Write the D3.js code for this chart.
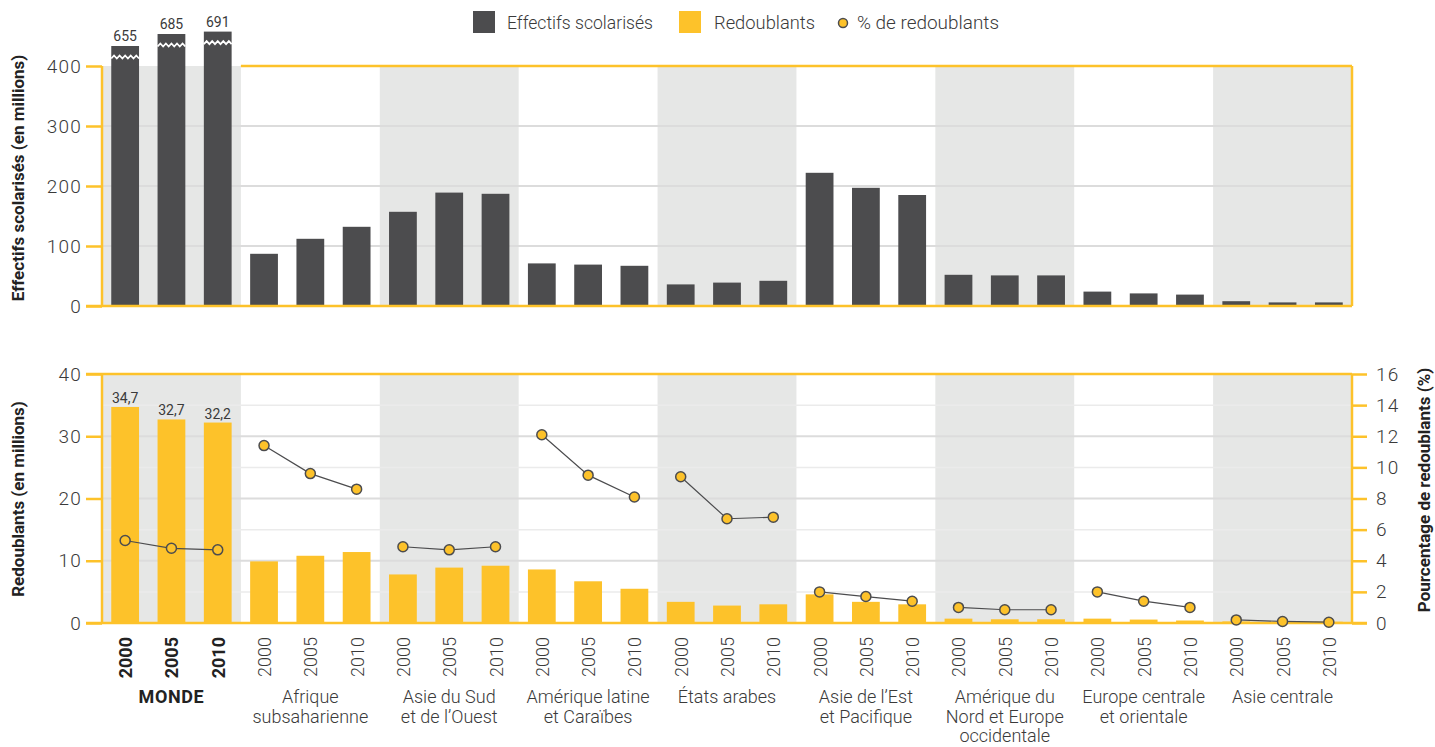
<!DOCTYPE html>
<html><head><meta charset="utf-8">
<script src="https://cdn.jsdelivr.net/npm/d3@7"></script>
<style>
html,body{margin:0;padding:0;background:#fff;}
svg text{font-family:Roboto,"Liberation Sans",sans-serif;}
</style></head>
<body><svg id="c" width="1435" height="747"></svg>
<script>
// ---------- DATA ----------
const regions = [
  ["MONDE"],
  ["Afrique","subsaharienne"],
  ["Asie du Sud","et de l’Ouest"],
  ["Amérique latine","et Caraïbes"],
  ["États arabes"],
  ["Asie de l’Est","et Pacifique"],
  ["Amérique du","Nord et Europe","occidentale"],
  ["Europe centrale","et orientale"],
  ["Asie centrale"]
];
const years = ["2000","2005","2010"];
// Effectifs scolarisés (millions), 3 years per region
const enrolled = [655,685,691, 87,112,132, 157,189,187, 71,69,67, 36,39,42, 222,197,185, 52,51,51, 24,21,19, 8,6,6];
// Redoublants (millions)
const repeaters = [34.7,32.7,32.2, 9.9,10.8,11.4, 7.8,8.9,9.2, 8.6,6.7,5.5, 3.4,2.8,3.0, 4.6,3.4,3.0, 0.7,0.6,0.6, 0.7,0.55,0.4, 0.25,0.2,0.2];
// % de redoublants
const pctRepeaters = [5.3,4.8,4.7, 11.4,9.6,8.6, 4.9,4.7,4.9, 12.1,9.5,8.1, 9.4,6.7,6.8, 2.0,1.7,1.4, 1.0,0.85,0.85, 2.0,1.4,1.0, 0.2,0.1,0.05];
const topTicks = [0,100,200,300,400];
const botTicksL = [0,10,20,30,40];
const botTicksR = [0,2,4,6,8,10,12,14,16];
const worldLabels = ["655","685","691"];
const worldRepLabels = ["34,7","32,7","32,2"];
const legendItems = ["Effectifs scolarisés","Redoublants","% de redoublants"];

// ---------- STYLE ----------
const YEL="#fdc22a", DARK="#4c4c4e", BG="#e6e7e6", GRID="#dcdcdc", GRID2="#ebebeb", TXT="#3a3a3a";
const L=102, R=1352;
const svg=d3.select("#c");

const keys=[]; regions.forEach((r,i)=>years.forEach(y=>keys.push(i+"-"+y)));
const x=d3.scaleBand().domain(keys).range([L,R]).paddingInner(0.4).paddingOuter(0.2);
const gx=d3.scaleBand().domain(d3.range(regions.length)).range([L,R]);

const T0=66,T1=306;
const yT=d3.scaleLinear().domain([0,400,650,700]).range([T1,T0,48,28]);
const B0=374,B1=623;
const yL=d3.scaleLinear().domain([0,40]).range([B1,B0]);
const yR=d3.scaleLinear().domain([0,16]).range([B1,B0]);

function panelBg(top,bot){
  svg.append("g").selectAll("rect").data(d3.range(regions.length).filter(i=>i%2===0))
    .join("rect").attr("x",i=>gx(i)).attr("y",top).attr("width",gx.bandwidth()).attr("height",bot-top).attr("fill",BG);
}
panelBg(T0,T1); panelBg(B0,B1);

svg.append("g").selectAll("line").data([100,200,300]).join("line")
  .attr("x1",L).attr("x2",R).attr("y1",d=>yT(d)).attr("y2",d=>yT(d)).attr("stroke",GRID).attr("stroke-width",2);
svg.append("g").selectAll("line").data([5,15,25,35]).join("line")
  .attr("x1",L).attr("x2",R).attr("y1",d=>yL(d)).attr("y2",d=>yL(d)).attr("stroke",GRID2).attr("stroke-width",1.5);
svg.append("g").selectAll("line").data([10,20,30]).join("line")
  .attr("x1",L).attr("x2",R).attr("y1",d=>yL(d)).attr("y2",d=>yL(d)).attr("stroke",GRID).attr("stroke-width",2);

svg.append("line").attr("x1",gx(1)).attr("x2",R).attr("y1",T0).attr("y2",T0).attr("stroke",YEL).attr("stroke-width",2.5);
svg.append("line").attr("x1",L-16).attr("x2",R).attr("y1",B0).attr("y2",B0).attr("stroke",YEL).attr("stroke-width",2.5);
svg.append("line").attr("x1",R).attr("x2",R).attr("y1",T0).attr("y2",T1).attr("stroke",YEL).attr("stroke-width",2.5);

// top bars
svg.append("g").selectAll("rect").data(enrolled).join("rect")
  .attr("x",(d,i)=>x(keys[i])).attr("width",x.bandwidth())
  .attr("y",d=>yT(d)).attr("height",d=>T1-yT(d)).attr("fill",DARK);
const zig=d3.line();
svg.append("g").selectAll("path").data(enrolled.slice(0,3)).join("path")
  .attr("d",(d,i)=>{const x0=x(keys[i]),w=x.bandwidth(),yy=yT(d)+11,pts=[];
    for(let k=0;k<=10;k++)pts.push([x0+k*w/10,yy+(k%2?-1.5:1.5)]);return zig(pts);})
  .attr("fill","none").attr("stroke","#fff").attr("stroke-width",1.8);
svg.append("g").selectAll("text").data(enrolled.slice(0,3)).join("text")
  .attr("x",(d,i)=>x(keys[i])+x.bandwidth()/2).attr("y",d=>yT(d)-5)
  .attr("text-anchor","middle").attr("font-size",14).attr("fill",TXT).text((d,i)=>worldLabels[i]);

const axT=svg.append("g").attr("transform",`translate(${L},0)`)
  .call(d3.axisLeft(yT).tickValues(topTicks).tickSize(16).tickPadding(4).tickFormat(d3.format("d")));
const axBL=svg.append("g").attr("transform",`translate(${L},0)`)
  .call(d3.axisLeft(yL).tickValues(botTicksL).tickSize(16).tickPadding(4));
const axBR=svg.append("g").attr("transform",`translate(${R},0)`)
  .call(d3.axisRight(yR).tickValues(botTicksR).tickSize(15).tickPadding(9));
[axT,axBL,axBR].forEach(a=>{
  a.select(".domain").attr("stroke",YEL).attr("stroke-width",2.5);
  a.selectAll(".tick line").attr("stroke",YEL).attr("stroke-width",2.5);
  a.selectAll(".tick text").attr("font-size",19).attr("letter-spacing",1.2).attr("fill",TXT).attr("font-weight",300);
});
axT.select(".domain").attr("d",`M0,${T0}V${T1}`);
axBL.select(".domain").attr("d",`M0,${B0}V${B1}`);
axBR.select(".domain").attr("d",`M0,${B0}V${B1}`);

// bottom bars
svg.append("g").selectAll("rect").data(repeaters).join("rect")
  .attr("x",(d,i)=>x(keys[i])).attr("width",x.bandwidth())
  .attr("y",d=>yL(d)).attr("height",d=>B1-yL(d)).attr("fill",YEL);
svg.append("g").selectAll("text").data(repeaters.slice(0,3)).join("text")
  .attr("x",(d,i)=>x(keys[i])+x.bandwidth()/2).attr("y",d=>yL(d)-4)
  .attr("text-anchor","middle").attr("font-size",14).attr("fill",TXT).text((d,i)=>worldRepLabels[i]);

svg.append("line").attr("x1",L-16).attr("x2",R).attr("y1",T1).attr("y2",T1).attr("stroke",YEL).attr("stroke-width",2.5);
svg.append("line").attr("x1",L-16).attr("x2",R+15).attr("y1",B1).attr("y2",B1).attr("stroke",YEL).attr("stroke-width",2.5);

const line=d3.line().x(d=>x(keys[d])+x.bandwidth()/2).y(d=>yR(pctRepeaters[d]));
regions.forEach((r,g)=>{
  svg.append("path").attr("d",line([g*3,g*3+1,g*3+2])).attr("fill","none").attr("stroke",DARK).attr("stroke-width",1.2);
});
svg.append("g").selectAll("circle").data(pctRepeaters).join("circle")
  .attr("cx",(d,i)=>x(keys[i])+x.bandwidth()/2).attr("cy",d=>yR(d)).attr("r",5)
  .attr("fill",YEL).attr("stroke",DARK).attr("stroke-width",1.5);

// year labels
svg.append("g").selectAll("text").data(keys).join("text")
  .attr("transform",k=>`translate(${x(k)+x.bandwidth()/2+7},637) rotate(-90)`)
  .attr("text-anchor","end").attr("font-size",18)
  .attr("font-weight",k=>k.startsWith("0-")?700:300).attr("fill",k=>k.startsWith("0-")?"#222":TXT)
  .text(k=>k.split("-")[1]);
// region labels
regions.forEach((lines,g)=>{
  const cx=gx(g)+gx.bandwidth()/2;
  const t=svg.append("text").attr("x",cx).attr("y",703).attr("text-anchor","middle")
    .attr("font-size",18).attr("letter-spacing",g===0?0.6:0).attr("fill",g===0?"#222":TXT).attr("font-weight",g===0?700:300);
  lines.forEach((s,j)=>t.append("tspan").attr("x",cx).attr("y",703+j*19.5).text(s));
});

// axis titles
svg.append("text").attr("transform",`translate(24,178) rotate(-90)`).attr("text-anchor","middle")
  .attr("font-size",17).attr("font-weight",700).attr("fill","#222").text("Effectifs scolarisés (en millions)");
svg.append("text").attr("transform",`translate(24,499) rotate(-90)`).attr("text-anchor","middle")
  .attr("font-size",17).attr("font-weight",700).attr("fill","#222").text("Redoublants (en millions)");
svg.append("text").attr("transform",`translate(1430,490) rotate(-90)`).attr("text-anchor","middle")
  .attr("font-size",17).attr("font-weight",700).attr("fill","#222").text("Pourcentage de redoublants (%)");

// legend
const lg=svg.append("g");
lg.append("rect").attr("x",473).attr("y",11).attr("width",22).attr("height",22).attr("fill",DARK);
lg.append("rect").attr("x",679).attr("y",11).attr("width",22).attr("height",22).attr("fill",YEL);
lg.append("circle").attr("cx",843).attr("cy",23).attr("r",4.5).attr("fill",YEL).attr("stroke",DARK).attr("stroke-width",1.5);
const legX=[507,714,857], legW=[146,101,142];
lg.selectAll("text").data(legendItems).join("text")
  .attr("x",(d,i)=>legX[i]).attr("y",29).attr("font-size",18).attr("font-weight",300).attr("fill",TXT)
  .attr("textLength",(d,i)=>legW[i]).attr("lengthAdjust","spacingAndGlyphs").text(d=>d);
</script></body></html>
